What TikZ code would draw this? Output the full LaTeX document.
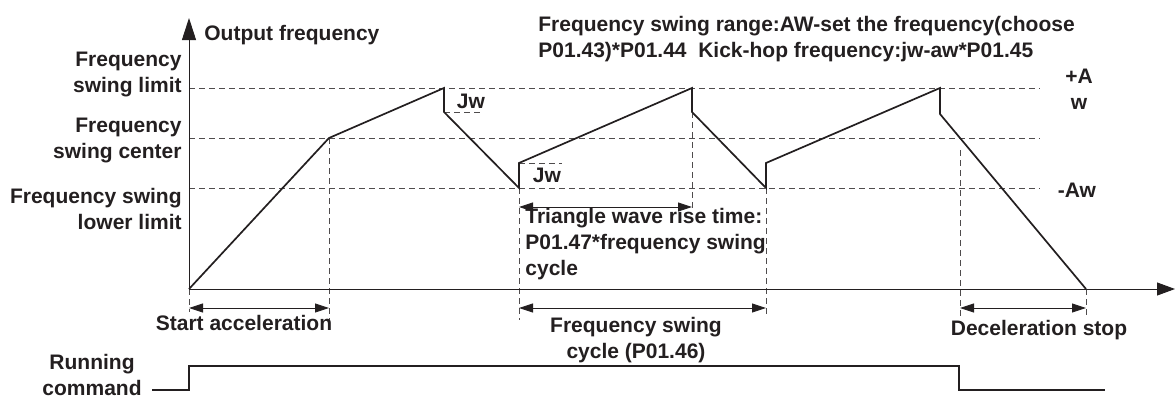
\documentclass[tikz,border=0pt]{standalone}
\usepackage{fontspec}
\setmainfont{Liberation Sans}
\usetikzlibrary{arrows.meta}
\definecolor{ink}{HTML}{231F20}
\tikzset{
	lbl/.style={font=\fontsize{10.5}{13}\selectfont\bfseries, text=ink, inner sep=0pt},
	wave/.style={draw=ink, line width=0.85pt},
	guide/.style={draw=ink!80, line width=0.35pt, dash pattern=on 3pt off 2pt},
	axis/.style={draw=ink, line width=0.5pt},
	span/.style={draw=ink, line width=0.45pt, {Triangle[length=7pt,width=4.5pt]}-{Triangle[length=7pt,width=4.5pt]}},
}
\begin{document}
\begin{tikzpicture}[x=0.5pt,y=-0.5pt]
		\useasboundingbox (0,0) rectangle (1175,397);
		\coordinate (O) at (189,289);
		\coordinate (ytop) at (189,18);
		\coordinate (xend) at (1175,289);
		\coordinate (p1) at (329,138);
		\coordinate (p2) at (444,88);
		\coordinate (p3) at (444,112);
		\coordinate (p4) at (519,188);
		\coordinate (p5) at (519,163);
		\coordinate (p6) at (692,88);
		\coordinate (p7) at (692,112);
		\coordinate (p8) at (766,188);
		\coordinate (p9) at (766,163);
		\coordinate (p10) at (940,88);
		\coordinate (p11) at (940,114);
		\coordinate (p12) at (1086,289);
		\foreach \y in {88,138,188}
			\draw[guide] (189,\y) -- (1040,\y);
		\draw[guide] (p1) -- (329,322);
		\draw[guide] (O) -- (189,312);
		\draw[guide] (p4) -- (519,320);
		\draw[guide] (p7) -- (692,208);
		\draw[guide] (p8) -- (766,316);
		\draw[guide] (960,150) -- (960,318);
		\draw[guide] (p12) -- (1086,318);
		\draw[guide] (p3) -- (482,112);
		\draw[guide] (p5) -- (562,163);
		\draw[axis, -{Triangle[length=11pt,width=7pt]}] (O) -- (ytop);
		\draw[axis, -{Triangle[length=9pt,width=6.5pt]}] (O) -- (xend);
		\draw[wave] (O) -- (p1) -- (p2) -- (p3) -- (p4) -- (p5) -- (p6) -- (p7) -- (p8) -- (p9) -- (p10) -- (p11) -- (p12);
		\coordinate (sa1) at (189,308);
		\coordinate (sa2) at (329,308);
		\coordinate (tr1) at (519,207);
		\coordinate (tr2) at (692,207);
		\coordinate (fc1) at (519,308);
		\coordinate (fc2) at (766,308);
		\coordinate (ds1) at (960,308);
		\coordinate (ds2) at (1086,308);
		\draw[span] (sa1) -- (sa2);
		\draw[span] (tr1) -- (tr2);
		\draw[span] (fc1) -- (fc2);
		\draw[span] (ds1) -- (ds2);
		\draw[draw=ink, line width=1.1pt] (152,390) -- (189,390) -- (189,366) -- (959,366) -- (959,390) -- (1105,390);
		\node[lbl, anchor=west] (yname) at (204,35) {Output frequency};
		\node[lbl, align=right, anchor=east] (limit) at (182,74.5) {Frequency\\swing limit};
		\node[lbl, align=right, anchor=east] (center) at (182,140.5) {Frequency\\swing center};
		\node[lbl, align=right, anchor=east] (lower) at (182,208.5) {Frequency swing\\lower limit};
		\node[lbl, align=center, anchor=east] (run) at (142,375) {Running\\command};
		\node[lbl, align=left, anchor=west] (range) at (538,39.5) {Frequency swing range:AW-set the frequency(choose\\P01.43)*P01.44\ \ Kick-hop frequency:jw-aw*P01.45};
		\node[lbl, align=center] (plus) at (1079,89) {+A\\w};
		\node[lbl] (minus) at (1077,190) {-Aw};
		\node[lbl] (jw1) at (471,101) {Jw};
		\node[lbl] (jw2) at (547,175) {Jw};
		\node[lbl] (start) at (244,323) {Start acceleration};
		\node[lbl, align=left, anchor=west] (rise) at (525,244) {Triangle wave rise time:\\P01.47*frequency swing\\cycle};
		\node[lbl, align=center] (cycle) at (636,340.5) {Frequency swing\\cycle (P01.46)};
		\node[lbl] (decel) at (1039,330) {Deceleration stop};
	\end{tikzpicture}
\end{document}
